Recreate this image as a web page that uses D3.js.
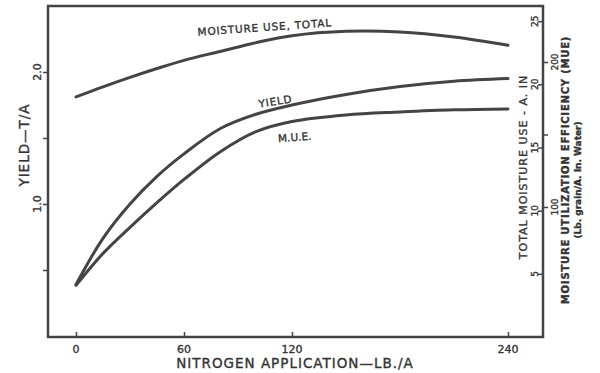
<!DOCTYPE html>
<html>
<head>
<meta charset="utf-8">
<script src="https://cdn.jsdelivr.net/npm/d3@7"></script>
<style>
	body { margin: 0; background: #fff; }
	svg { display: block; font-family: 'DejaVu Sans', sans-serif; }
	.axis path.domain { display: none; }
	.axis line { stroke: #444; stroke-width: 1.5; }
	text { fill: #333; stroke: #333; stroke-width: 0.35; }
</style>
</head>
<body>
<svg id="chart" width="600" height="373"></svg>
<script>
// values
const nitrogen = [0, 15, 30, 45, 60, 80, 100, 120, 150, 180, 210, 240]; // lb/A
const yieldTA = [0.39, 0.74, 1.0, 1.21, 1.38, 1.57, 1.68, 1.75, 1.83, 1.89, 1.93, 1.95]; // T/A
const mue = [46, 68, 86, 103, 119, 138, 152, 159, 163.5, 165.5, 167, 167.6]; // lb grain / A. in water
const moistureUse = [19.0, 19.8, 20.55, 21.25, 21.9, 22.6, 23.3, 23.85, 24.2, 24.15, 23.75, 23.1]; // A. in

const xTicks = [0, 60, 120, 240];
const xTickLabels = ['0', '60', '120', '240'];
const yieldTicks = [0.5, 1.0, 1.5, 2.0];
const yieldLabelled = [1.0, 2.0];
const moistureTicks = [5, 10, 15, 20, 25];
const mueTicks = [100, 150, 200];
const mueLabelled = [100, 200];

const svg = d3.select('#chart');

const //
	frameLeft = 48,
	frameRight = 543,
	frameTop = 6,
	frameBottom = 337;

const x = d3.scaleLinear().domain([0, 240]).range([76, 508]);
const yYield = d3.scaleLinear().domain([0, 2.5]).range([336, 6]);
const yMoist = d3.scaleLinear().domain([0, 26.2]).range([337, 6]);
const yMue = d3.scaleLinear().domain([100, 200]).range([207, 62]);

//frame
svg.append('rect')
	.attr('x', frameLeft)
	.attr('y', frameTop)
	.attr('width', frameRight - frameLeft)
	.attr('height', frameBottom - frameTop)
	.attr('fill', 'none')
	.attr('stroke', '#444')
	.attr('stroke-width', 2.5);

//tick marks through d3 axes, labels drawn separately (they are rotated)
svg.append('g')
	.attr('class', 'axis')
	.attr('transform', `translate(0,${frameBottom})`)
	.call(d3.axisTop(x).tickValues(xTicks).tickSize(5).tickFormat(''));

svg.append('g')
	.attr('class', 'axis')
	.attr('transform', `translate(${frameLeft},0)`)
	.call(d3.axisLeft(yYield).tickValues(yieldTicks).tickSize(5).tickFormat(''));

svg.append('g')
	.attr('class', 'axis')
	.attr('transform', `translate(${frameRight},0)`)
	.call(d3.axisLeft(yMoist).tickValues(moistureTicks).tickSize(5).tickFormat(''));

svg.append('g')
	.attr('class', 'axis')
	.attr('transform', `translate(${frameRight},0)`)
	.call(d3.axisRight(yMue).tickValues(mueTicks).tickSize(5).tickFormat(''));

// x tick labels
svg.append('g')
	.selectAll('text')
	.data(xTicks)
	.join('text')
	.attr('x', d => x(d))
	.attr('y', 353)
	.attr('text-anchor', 'middle')
	.attr('font-size', 11)
	.text((d, i) => xTickLabels[i]);

svg.append('text')
	.attr('x', 295)
	.attr('y', 368)
	.attr('text-anchor', 'middle')
	.attr('font-size', 13.5)
	.attr('letter-spacing', 1)
	.text('NITROGEN APPLICATION—LB./A');

// left axis labels
svg.append('g')
	.selectAll('text')
	.data(yieldLabelled)
	.join('text')
	.attr('transform', d => `translate(41,${yYield(d)}) rotate(-90)`)
	.attr('text-anchor', 'middle')
	.attr('font-size', 11)
	.text(d => d.toFixed(1));

svg.append('text')
	.attr('transform', 'translate(29,145) rotate(-90)')
	.attr('text-anchor', 'middle')
	.attr('font-size', 13.5)
	.attr('letter-spacing', 1)
	.text('YIELD—T/A');

// right axis labels: moisture inside, MUE outside
svg.append('g')
	.selectAll('text')
	.data(moistureTicks)
	.join('text')
	.attr('transform', d => `translate(538,${yMoist(d)}) rotate(-90)`)
	.attr('text-anchor', 'middle')
	.attr('font-size', 9)
	.text(d => d);

svg.append('text')
	.attr('transform', 'translate(527,167) rotate(-90)')
	.attr('text-anchor', 'middle')
	.attr('font-size', 11)
	.attr('letter-spacing', 1)
	.text('TOTAL MOISTURE USE - A. IN');

svg.append('g')
	.selectAll('text')
	.data(mueLabelled)
	.join('text')
	.attr('transform', d => `translate(558,${yMue(d)}) rotate(-90)`)
	.attr('text-anchor', 'middle')
	.attr('font-size', 9)
	.text(d => d);

svg.append('text')
	.attr('transform', 'translate(569,170) rotate(-90)')
	.attr('text-anchor', 'middle')
	.attr('font-size', 10)
	.attr('font-weight', 'bold')
	.attr('letter-spacing', 0.8)
	.text('MOISTURE UTILIZATION EFFICIENCY (MUE)');

svg.append('text')
	.attr('transform', 'translate(581,180) rotate(-90)')
	.attr('text-anchor', 'middle')
	.attr('font-size', 9)
	.attr('font-weight', 'bold')
	.text('(Lb. grain/A. In. Water)');

//curves
const series = [
	{values: moistureUse, y: yMoist},
	{values: yieldTA, y: yYield},
	{values: mue, y: yMue}
];

series.forEach(s => {
	const line = d3.line()
		.x((d, i) => x(nitrogen[i]))
		.y(d => s.y(d))
		.curve(d3.curveCatmullRom.alpha(0.5));
	svg.append('path')
		.datum(s.values)
		.attr('d', line)
		.attr('fill', 'none')
		.attr('stroke', '#444')
		.attr('stroke-width', 3)
		.attr('stroke-linecap', 'round');
});

// curve captions
svg.append('text')
	.attr('transform', 'translate(265,31) rotate(-4)')
	.attr('text-anchor', 'middle')
	.attr('font-size', 10.5)
	.attr('letter-spacing', 0.8)
	.text('MOISTURE USE, TOTAL');

svg.append('text')
	.attr('transform', 'translate(276,105) rotate(-9)')
	.attr('text-anchor', 'middle')
	.attr('font-size', 10.5)
	.attr('letter-spacing', 0.8)
	.text('YIELD');

svg.append('text')
	.attr('transform', 'translate(295,141) rotate(-4)')
	.attr('text-anchor', 'middle')
	.attr('font-size', 10.5)
	.text('M.U.E.');
</script>
</body>
</html>
